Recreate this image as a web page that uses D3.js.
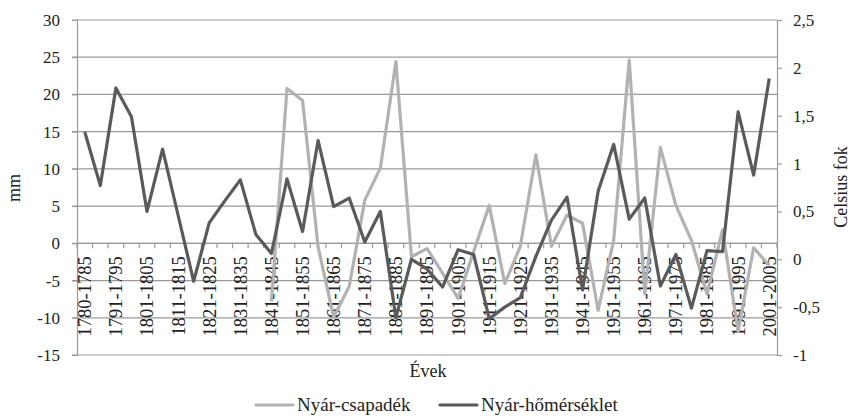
<!DOCTYPE html>
<html>
<head>
<meta charset="utf-8">
<script src="https://cdn.jsdelivr.net/npm/d3@7"></script>
<style>
body { margin: 0; background: #fff; }
text { font-family: "Liberation Serif", "DejaVu Serif", serif; fill: #222; }
</style>
</head>
<body>
<div class="chart"></div>
<script>
const periods = ["1780-1785","1786-1790","1791-1795","1796-1800","1801-1805","1806-1810",
  "1811-1815","1816-1820","1821-1825","1826-1830","1831-1835","1836-1840","1841-1845",
  "1846-1850","1851-1855","1856-1860","1861-1865","1866-1870","1871-1875","1876-1880",
  "1881-1885","1886-1890","1891-1895","1896-1900","1901-1905","1906-1910","1911-1915",
  "1916-1920","1921-1925","1926-1930","1931-1935","1936-1940","1941-1945","1946-1950",
  "1951-1955","1956-1960","1961-1965","1966-1970","1971-1975","1976-1980","1981-1985",
  "1986-1990","1991-1995","1996-2000","2001-2005"];

// nyár-csapadék (mm), no data before 1841-1845
const csapadek = [null,null,null,null,null,null,null,null,null,null,null,null,
  -7.8,20.8,19.2,-0.5,-9.9,-5.8,5.8,10.1,24.4,-1.8,-0.7,-4.0,-7.4,-1.1,5.1,-5.4,
  -0.4,11.9,-0.4,3.8,2.7,-9.0,0.4,24.6,-6.8,12.9,5.1,0.4,-6.8,1.8,-11.8,-0.6,-3.0];

// nyár-hőmérséklet (Celsius fok)
const homerseklet = [1.33,0.77,1.79,1.49,0.50,1.15,0.46,-0.23,0.38,0.61,0.83,0.26,
  0.06,0.84,0.29,1.24,0.55,0.64,0.18,0.50,-0.61,0.0,-0.10,-0.29,0.10,0.05,-0.62,
  -0.50,-0.40,0.03,0.41,0.65,-0.32,0.71,1.20,0.42,0.64,-0.28,0.05,-0.51,0.09,0.08,
  1.54,0.88,1.89];

const mmTicks = [-15,-10,-5,0,5,10,15,20,25,30];
const fokTicks = [-1,-0.5,0,0.5,1,1.5,2,2.5];

const W = 853, H = 418;
const mLeft = 77, mRight = 777, mTop = 20, mBottom = 355;

const svg = d3.select(".chart").append("svg")
  .attr("width", W)
  .attr("height", H);

const x = d3.scaleBand().domain(periods).range([mLeft, mRight]);
const yL = d3.scaleLinear().domain([-15, 30]).range([mBottom, mTop]);
const yR = d3.scaleLinear().domain([-1, 2.5]).range([mBottom, mTop]);

const hu = d3.formatLocale({decimal: ",", thousands: " ", grouping: [3], currency: ["", " Ft"], minus: "-"});
const fmt = hu.format("");

const gridColor = "#9a9a9a";

// gridlines
svg.append("g")
  .selectAll("line")
  .data(mmTicks)
  .join("line")
  .attr("x1", mLeft - 5)
  .attr("x2", mRight)
  .attr("y1", d => yL(d))
  .attr("y2", d => yL(d))
  .attr("stroke", gridColor)
  .attr("stroke-width", 1.2);

// left axis
const gLeft = svg.append("g")
  .attr("transform", `translate(${mLeft},0)`)
  .call(d3.axisLeft(yL).tickValues(mmTicks).tickSize(5).tickPadding(12).tickFormat(fmt));
gLeft.select(".domain").attr("stroke", gridColor).attr("stroke-width", 1.2);
gLeft.selectAll(".tick line").attr("stroke", gridColor);
gLeft.selectAll("text").attr("font-size", 17).attr("font-family", "Liberation Serif").attr("fill", "#222");

// right axis
const gRight = svg.append("g")
  .attr("transform", `translate(${mRight},0)`)
  .call(d3.axisRight(yR).tickValues(fokTicks).tickSize(5).tickPadding(11).tickFormat(fmt));
gRight.select(".domain").attr("stroke", gridColor).attr("stroke-width", 1.2);
gRight.selectAll(".tick line").attr("stroke", gridColor).attr("stroke-width", 1.2);
gRight.selectAll("text").attr("font-size", 17).attr("font-family", "Liberation Serif").attr("fill", "#222");

// category axis at 0 mm
const y0 = yL(0);
svg.append("line")
  .attr("x1", mLeft).attr("x2", mRight)
  .attr("y1", y0).attr("y2", y0)
  .attr("stroke", gridColor).attr("stroke-width", 1.2);

svg.append("g")
  .selectAll("line")
  .data(periods.concat([null]))
  .join("line")
  .attr("x1", (d, i) => i < periods.length ? x(d) : mRight)
  .attr("x2", (d, i) => i < periods.length ? x(d) : mRight)
  .attr("y1", y0)
  .attr("y2", y0 + 5)
  .attr("stroke", gridColor)
  .attr("stroke-width", 1.2);

svg.append("g")
  .selectAll("text")
  .data(periods.filter((d, i) => i % 2 === 0))
  .join("text")
  .text(d => d)
  .attr("transform", d => `translate(${x(d) + x.bandwidth() / 2},${y0 + 13}) rotate(-90)`)
  .attr("dy", "0.35em")
  .attr("text-anchor", "end")
  .attr("font-size", 18.5);

// lines
const cx = (d, i) => x(periods[i]) + x.bandwidth() / 2;

const lineP = d3.line()
  .defined(d => d !== null)
  .x(cx)
  .y(d => yL(d));

const lineT = d3.line()
  .x(cx)
  .y(d => yR(d));

svg.append("path")
  .datum(csapadek)
  .attr("d", lineP)
  .attr("fill", "none")
  .attr("stroke", "#b2b2b2")
  .attr("stroke-width", 3.2)
  .attr("stroke-linejoin", "round");

svg.append("path")
  .datum(homerseklet)
  .attr("d", lineT)
  .attr("fill", "none")
  .attr("stroke", "#5a5a5a")
  .attr("stroke-width", 3.2)
  .attr("stroke-linejoin", "round");

// axis titles
svg.append("text")
  .text("mm")
  .attr("transform", "translate(20,188) rotate(-90)")
  .attr("text-anchor", "middle")
  .attr("font-size", 18);

svg.append("text")
  .text("Celsius fok")
  .attr("transform", "translate(841,187) rotate(-90)")
  .attr("dy", "0.35em")
  .attr("text-anchor", "middle")
  .attr("font-size", 18);

svg.append("text")
  .text("Évek")
  .attr("x", 428)
  .attr("y", 377)
  .attr("text-anchor", "middle")
  .attr("font-size", 18);

// legend
const legendItems = [
  {name: "Nyár-csapadék", color: "#b2b2b2", x: 256},
  {name: "Nyár-hőmérséklet", color: "#5a5a5a", x: 440}
];
const lg = svg.append("g")
  .selectAll("g")
  .data(legendItems)
  .join("g")
  .attr("transform", d => `translate(${d.x},405)`);
lg.append("line")
  .attr("x1", 0).attr("x2", 37)
  .attr("y1", 0).attr("y2", 0)
  .attr("stroke", d => d.color)
  .attr("stroke-width", 3.2)
  .attr("stroke-linecap", "round");
lg.append("text")
  .text(d => d.name)
  .attr("x", 41)
  .attr("y", 6)
  .attr("font-size", 19);
</script>
</body>
</html>
